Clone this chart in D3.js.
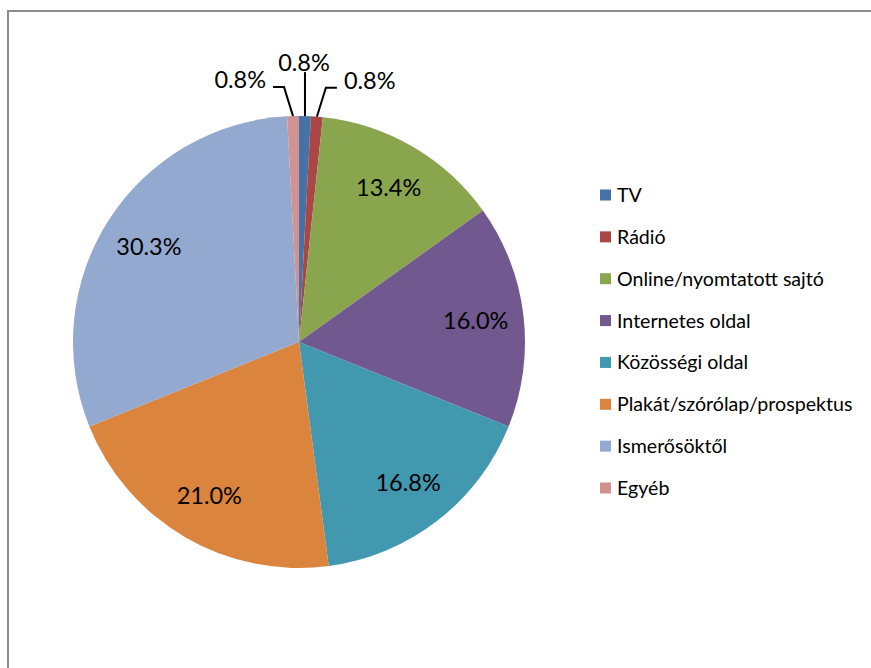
<!DOCTYPE html>
<html><head><meta charset="utf-8">
<script src="https://cdn.jsdelivr.net/npm/d3@7"></script>
<style>html,body{margin:0;padding:0;background:#fff;}svg{display:block;}</style>
</head><body>
<svg id="c" width="871" height="668"></svg>
<script>
const categories = ["TV","Rádió","Online/nyomtatott sajtó","Internetes oldal","Közösségi oldal","Plakát/szórólap/prospektus","Ismerősöktől","Egyéb"];
const counts = [1,1,16,19,20,25,36,1];
const colors = ["#4572A7","#AA4643","#89A54E","#71588F","#4198AF","#DB843D","#93A9CF","#D19392"];

const svg = d3.select("#c");
const W = 871, H = 668;
const font = "Lato, 'Open Sans', sans-serif";

// frame
svg.append("rect").attr("x",8).attr("y",11).attr("width",W+20).attr("height",H+20)
  .attr("fill","#fff").attr("stroke","#8c8c8c").attr("stroke-width",2);

const cx = 299, cy = 342, R = 226;
const total = d3.sum(counts);
const pie = d3.pie().value(d=>d).sort(null);
const arcs = pie(counts);
const arc = d3.arc().innerRadius(0).outerRadius(R);
const g = svg.append("g").attr("transform",`translate(${cx},${cy})`);
const color = d3.scaleOrdinal().domain(categories).range(colors);

g.selectAll("path.slice").data(arcs).enter().append("path")
  .attr("class","slice").attr("d",arc).attr("fill",(d,i)=>color(categories[i]));

const fmt = v => (v/total*100).toFixed(1)+"%";
const labelArc = d3.arc().innerRadius(178).outerRadius(178);

// big slice labels
g.selectAll("text.big").data(arcs.filter(d=>d.value/total>0.05)).enter().append("text")
  .attr("class","big")
  .attr("x",d=>labelArc.centroid(d)[0]).attr("y",d=>labelArc.centroid(d)[1])
  .attr("text-anchor","middle").attr("dy","0.35em")
  .attr("font-family",font).attr("font-size",23.5).attr("fill","#000")
  .text(d=>fmt(d.value));

// small slice labels with leader lines
const small = arcs.map((d,i)=>({d,i})).filter(o=>o.d.value/total<=0.05);
small.forEach(o=>{
  const a = (o.d.startAngle+o.d.endAngle)/2;
  const ex = R*Math.sin(a), ey = -R*Math.cos(a);
  const side = o.i===0 ? 0 : (Math.sin(a) < 0 ? -1 : 1);
  let pts, tx, ty, anchor;
  if (side===0) {
    pts = [[ex,ey],[ex,ey-44]];
    tx = ex-1; ty = ey-45; anchor="middle";
  } else {
    const elx = ex + side*9, ely = ey-29;
    pts = [[ex,ey],[elx,ely],[elx+side*11,ely]];
    tx = elx+side*18; ty = ely+1; anchor = side<0?"end":"start";
  }
  g.append("path").attr("d",d3.line()(pts)).attr("fill","none")
    .attr("stroke","#000").attr("stroke-width",2);
  g.append("text").attr("x",tx).attr("y",ty).attr("text-anchor",anchor)
    .attr("font-family",font).attr("font-size",23.5).attr("fill","#000")
    .text(fmt(o.d.value));
});

// legend
const ly = d3.scalePoint().domain(categories).range([195,488]);
const leg = svg.append("g");
categories.forEach((c,i)=>{
  leg.append("rect").attr("x",600).attr("y",ly(c)-5.5).attr("width",11).attr("height",11).attr("fill",color(c));
  leg.append("text").attr("x",617).attr("y",ly(c)).attr("dy","0.36em")
    .attr("font-family",font).attr("font-size",19.6).attr("fill","#000").text(c);
});
</script>
</body></html>
